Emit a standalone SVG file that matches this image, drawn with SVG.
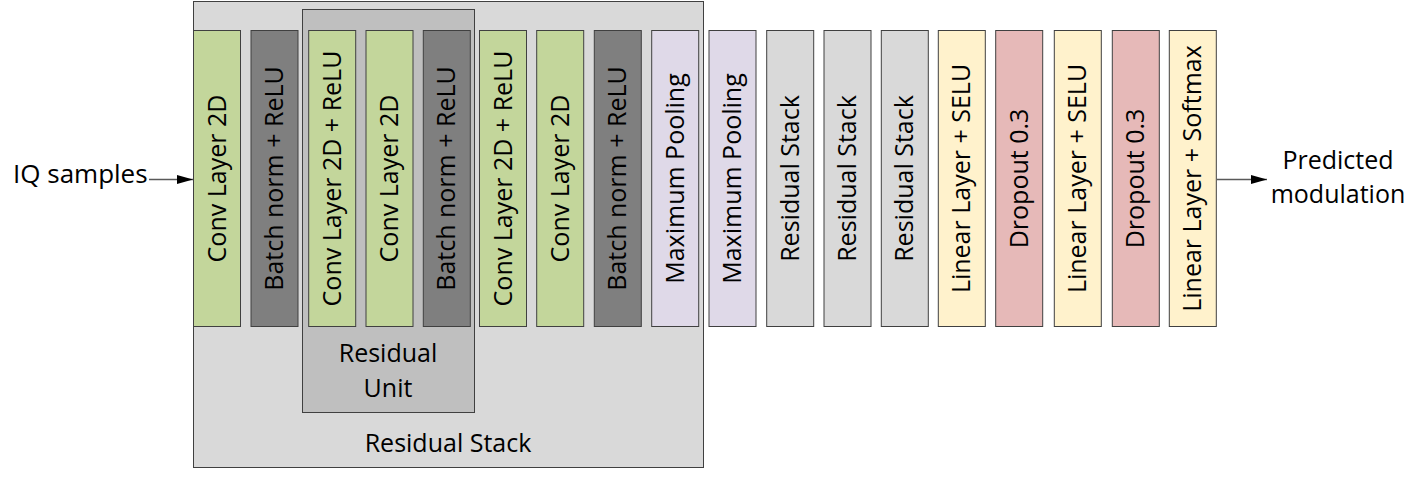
<svg xmlns="http://www.w3.org/2000/svg" width="1425" height="477" viewBox="0 0 1425 477">
<style>
text{font-family:"Open Sans","Liberation Sans",sans-serif;font-size:25px;fill:#000}
.blk{stroke:#404040;stroke-width:1}
.g{fill:#C3D69B}.d{fill:#7F7F7F}.p{fill:#DFD9E8}.l{fill:#D9D9D9}.y{fill:#FFF2CC}.r{fill:#E6B9B8}
.c{text-anchor:middle}
.conn{stroke:#595959;stroke-width:1.5;fill:none}
</style>
<defs>
<marker id="ah" markerWidth="16" markerHeight="10" refX="16" refY="5" orient="auto" markerUnits="userSpaceOnUse">
<path d="M0,0.5 L16,5 L0,9.5 z" fill="#000"/>
</marker>
</defs>
<rect width="1425" height="477" fill="#fff"/>
<g id="residual-stack">
<rect x="193.5" y="1.5" width="510" height="466" fill="#D9D9D9" stroke="#404040"/>
<text class="c" x="448" y="452">Residual Stack</text>
</g>
<g id="residual-unit">
<rect x="302.5" y="9.5" width="172" height="403" fill="#BFBFBF" stroke="#404040"/>
<text class="c" x="388" y="362">Residual</text>
<text class="c" x="388" y="397">Unit</text>
</g>
<g id="n1"><rect class="blk g" x="193.5" y="30.5" width="47" height="296"/><text class="c" transform="translate(225.5,178.5) rotate(-90)">Conv Layer 2D</text></g>
<g id="n2"><rect class="blk d" x="251" y="30.5" width="47" height="296"/><text class="c" transform="translate(283,178.5) rotate(-90)">Batch norm + ReLU</text></g>
<g id="n3"><rect class="blk g" x="308.7" y="30.5" width="47" height="296"/><text class="c" transform="translate(340.7,178.5) rotate(-90)">Conv Layer 2D + ReLU</text></g>
<g id="n4"><rect class="blk g" x="366" y="30.5" width="47" height="296"/><text class="c" transform="translate(398,178.5) rotate(-90)">Conv Layer 2D</text></g>
<g id="n5"><rect class="blk d" x="423.3" y="30.5" width="47" height="296"/><text class="c" transform="translate(455.3,178.5) rotate(-90)">Batch norm + ReLU</text></g>
<g id="n6"><rect class="blk g" x="479.5" y="30.5" width="47" height="296"/><text class="c" transform="translate(511.5,178.5) rotate(-90)">Conv Layer 2D + ReLU</text></g>
<g id="n7"><rect class="blk g" x="536.7" y="30.5" width="47" height="296"/><text class="c" transform="translate(568.7,178.5) rotate(-90)">Conv Layer 2D</text></g>
<g id="n8"><rect class="blk d" x="594.3" y="30.5" width="47" height="296"/><text class="c" transform="translate(626.3,178.5) rotate(-90)">Batch norm + ReLU</text></g>
<g id="n9"><rect class="blk p" x="651.7" y="30.5" width="47" height="296"/><text class="c" transform="translate(683.7,178.5) rotate(-90)">Maximum Pooling</text></g>
<g id="n10"><rect class="blk p" x="709" y="30.5" width="47" height="296"/><text class="c" transform="translate(741,178.5) rotate(-90)">Maximum Pooling</text></g>
<g id="n11"><rect class="blk l" x="766.7" y="30.5" width="47" height="296"/><text class="c" transform="translate(798.7,178.5) rotate(-90)">Residual Stack</text></g>
<g id="n12"><rect class="blk l" x="824" y="30.5" width="47" height="296"/><text class="c" transform="translate(856,178.5) rotate(-90)">Residual Stack</text></g>
<g id="n13"><rect class="blk l" x="881.3" y="30.5" width="47" height="296"/><text class="c" transform="translate(913.3,178.5) rotate(-90)">Residual Stack</text></g>
<g id="n14"><rect class="blk y" x="938.3" y="30.5" width="47" height="296"/><text class="c" transform="translate(970.3,178.5) rotate(-90)">Linear Layer + SELU</text></g>
<g id="n15"><rect class="blk r" x="995.7" y="30.5" width="47" height="296"/><text class="c" transform="translate(1027.7,178.5) rotate(-90)">Dropout 0.3</text></g>
<g id="n16"><rect class="blk y" x="1054.3" y="30.5" width="47" height="296"/><text class="c" transform="translate(1086.3,178.5) rotate(-90)">Linear Layer + SELU</text></g>
<g id="n17"><rect class="blk r" x="1112.3" y="30.5" width="47" height="296"/><text class="c" transform="translate(1144.3,178.5) rotate(-90)">Dropout 0.3</text></g>
<g id="n18"><rect class="blk y" x="1169.3" y="30.5" width="47" height="296"/><text class="c" transform="translate(1201.3,178.5) rotate(-90)">Linear Layer + Softmax</text></g>
<g id="input"><text x="13" y="183" style="font-size:26px">IQ samples</text></g>
<g id="output">
<text class="c" x="1338" y="169">Predicted</text>
<text class="c" x="1338" y="203">modulation</text>
</g>
<g id="connectors">
<line class="conn" x1="149" y1="179.5" x2="193" y2="179.5" marker-end="url(#ah)"/>
<line class="conn" x1="1217" y1="179.5" x2="1267" y2="179.5" marker-end="url(#ah)"/>
</g>
</svg>
